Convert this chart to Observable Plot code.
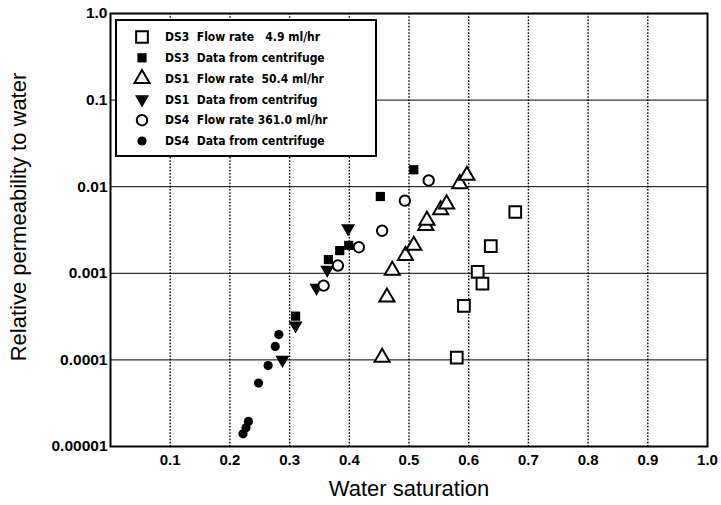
<!DOCTYPE html>
<html>
<head>
<meta charset="utf-8">
<script src="https://cdn.jsdelivr.net/npm/d3@7"></script>
<script src="https://cdn.jsdelivr.net/npm/@observablehq/plot@0.6"></script>
<style>
  html, body { margin: 0; padding: 0; background: #fff; }
  #wrap { position: relative; width: 721px; height: 505px; }
</style>
</head>
<body>
<div id="wrap"></div>
<script>
// ---- data ----
const ds3FlowX = [0.580, 0.592, 0.615, 0.623, 0.637, 0.678];
const ds3FlowY = [1.06e-4, 4.2e-4, 1.04e-3, 7.6e-4, 2.06e-3, 5.1e-3];

const ds3CentX = [0.310, 0.365, 0.384, 0.399, 0.452, 0.508];
const ds3CentY = [3.2e-4, 1.44e-3, 1.83e-3, 2.1e-3, 7.7e-3, 1.57e-2];

const ds1FlowX = [0.455, 0.463, 0.472, 0.494, 0.508, 0.528, 0.530, 0.553, 0.563, 0.585, 0.597];
const ds1FlowY = [1.07e-4, 5.3e-4, 1.08e-3, 1.6e-3, 2.1e-3, 3.56e-3, 4.07e-3, 5.4e-3, 6.3e-3, 1.08e-2, 1.35e-2];

const ds1CentX = [0.288, 0.310, 0.345, 0.363, 0.398];
const ds1CentY = [1.0e-4, 2.5e-4, 6.8e-4, 1.1e-3, 3.3e-3];

const ds4FlowX = [0.357, 0.381, 0.416, 0.455, 0.493, 0.533];
const ds4FlowY = [7.2e-4, 1.23e-3, 2.0e-3, 3.1e-3, 6.9e-3, 1.18e-2];

const ds4CentX = [0.222, 0.227, 0.231, 0.248, 0.264, 0.276, 0.282];
const ds4CentY = [1.4e-5, 1.65e-5, 1.95e-5, 5.4e-5, 8.6e-5, 1.43e-4, 1.96e-4];

const seriesNames = [
  "DS3  Flow rate   4.9 ml/hr",
  "DS3  Data from centrifuge",
  "DS1  Flow rate  50.4 ml/hr",
  "DS1  Data from centrifug",
  "DS4  Flow rate 361.0 ml/hr",
  "DS4  Data from centrifuge"
];

const xTicks = [0.1, 0.2, 0.3, 0.4, 0.5, 0.6, 0.7, 0.8, 0.9, 1.0];
const xTickLabels = ["0.1", "0.2", "0.3", "0.4", "0.5", "0.6", "0.7", "0.8", "0.9", "1.0"];
const yTicks = [1e-5, 1e-4, 1e-3, 1e-2, 1e-1, 1];
const yTickLabels = ["0.00001", "0.0001", "0.001", "0.01", "0.1", "1.0"];
const xGrid = [0.1, 0.2, 0.3, 0.4, 0.5, 0.6, 0.7, 0.8, 0.9];
const yGrid = [1e-4, 1e-3, 1e-2, 1e-1];

const xLabel = "Water saturation";
const yLabel = "Relative permeability to water";

// ---- build ----
const zip = (xs, ys) => xs.map((x, i) => ({x, y: ys[i]}));

const styles = [
  {symbol: "square",    fill: "white", r: 6.6, strokeWidth: 2},
  {symbol: "square",    fill: "black", r: 5.2, strokeWidth: 0},
  {symbol: "triangle",  fill: "white", r: 5.6, strokeWidth: 2},
  {symbol: "triangle2", fill: "black", r: 5.2, strokeWidth: 0},
  {symbol: "circle",    fill: "white", r: 5.2, strokeWidth: 2},
  {symbol: "circle",    fill: "black", r: 4.6, strokeWidth: 0}
];
// downward triangle symbol
const triDown = {
  draw(context, size) {
    const s = Math.sqrt(size / (Math.sqrt(3) / 4));
    const h = s * Math.sqrt(3) / 2;
    context.moveTo(-s / 2, -h / 3);
    context.lineTo(s / 2, -h / 3);
    context.lineTo(0, 2 * h / 3);
    context.closePath();
  }
};
const symOf = (st) => st.symbol === "triangle2" ? triDown : st.symbol;

const seriesData = [
  zip(ds3FlowX, ds3FlowY),
  zip(ds3CentX, ds3CentY),
  zip(ds1FlowX, ds1FlowY),
  zip(ds1CentX, ds1CentY),
  zip(ds4FlowX, ds4FlowY),
  zip(ds4CentX, ds4CentY)
];

const dotMarks = seriesData.map((data, i) => {
  const st = styles[i];
  return Plot.dot(data, {
    x: "x", y: "y",
    symbol: () => symOf(st),
    r: st.r,
    fill: st.fill,
    stroke: "black",
    strokeWidth: st.strokeWidth
  });
});

const chart = Plot.plot({
  width: 721,
  height: 505,
  marginLeft: 110,
  marginRight: 14,
  marginTop: 13,
  marginBottom: 59,
  style: {fontFamily: "'Liberation Sans', Arial, Helvetica, sans-serif", fontSize: "15px", background: "white", color: "black"},
  symbol: {type: "identity"},
  x: {domain: [0, 1]},
  y: {type: "log", domain: [1e-5, 1]},
  marks: [
    Plot.ruleX(xGrid, {stroke: "black", strokeWidth: 1.4, strokeDasharray: "1.6,1.6"}),
    Plot.ruleY(yGrid, {stroke: "black", strokeWidth: 1}),
    Plot.axisX({
      ticks: xTicks, tickSize: 0, tickPadding: 8,
      tickFormat: (d) => xTickLabels[xTicks.findIndex(t => Math.abs(t - d) < 1e-9)],
      fontSize: 15, fontWeight: "bold",
      label: null
    }),
    Plot.axisY({
      ticks: yTicks, tickSize: 0, tickPadding: 3,
      tickFormat: (d) => yTickLabels[yTicks.findIndex(t => Math.abs(t - d) / t < 1e-6)],
      fontSize: 15.5, fontWeight: "bold",
      label: null
    }),
    Plot.text([xLabel], {frameAnchor: "bottom", dy: 49, fontSize: 22, text: d => d}),
    Plot.text([yLabel], {frameAnchor: "left", dx: -92, dy: -13, rotate: -90, textAnchor: "middle", fontSize: 22, text: d => d}),
    ...dotMarks,
    Plot.frame({stroke: "black", strokeWidth: 2})
  ]
});

const wrap = document.getElementById("wrap");
wrap.appendChild(chart);

// ---- legend box (inside the plot area) ----
const lw = 262, lh = 138;
const leg = d3.create("svg")
  .attr("id", "legend")
  .attr("width", lw).attr("height", lh)
  .style("position", "absolute").style("left", "115px").style("top", "19px");
leg.append("rect").attr("x", 1).attr("y", 1).attr("width", lw - 2).attr("height", lh - 2)
  .attr("fill", "white").attr("stroke", "black").attr("stroke-width", 2);
seriesNames.forEach((name, i) => {
  const st = styles[i];
  const cy = 18 + i * 20.8;
  const sym = symOf(st);
  const d3sym = sym === "square" ? d3.symbolSquare : sym === "triangle" ? d3.symbolTriangle : sym === "circle" ? d3.symbolCircle : sym;
  leg.append("path")
    .attr("d", d3.symbol(d3sym, Math.PI * st.r * st.r)())
    .attr("transform", `translate(27,${cy})`)
    .attr("fill", st.fill).attr("stroke", "black").attr("stroke-width", st.strokeWidth);
  leg.append("text")
    .attr("x", 50).attr("y", cy).attr("dy", "0.35em")
    .attr("font-family", "'Liberation Sans Narrow', 'DejaVu Sans Condensed', 'Liberation Sans', Arial, sans-serif")
    .attr("font-size", 12).attr("font-weight", "bold")
    .attr("xml:space", "preserve").style("white-space", "pre")
    .text(name);
});
wrap.appendChild(leg.node());
</script>
</body>
</html>
